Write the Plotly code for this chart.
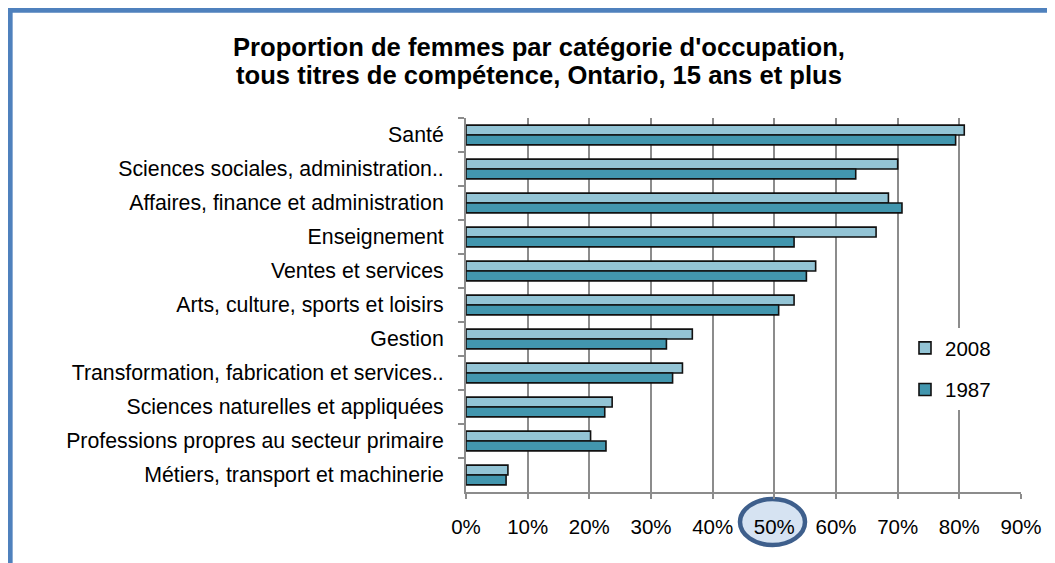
import plotly.graph_objects as go

categories = [
    "Santé",
    "Sciences sociales, administration..",
    "Affaires, finance et administration",
    "Enseignement",
    "Ventes et services",
    "Arts, culture, sports et loisirs",
    "Gestion",
    "Transformation, fabrication et services..",
    "Sciences naturelles et appliquées",
    "Professions propres au secteur primaire",
    "Métiers, transport et machinerie",
]
values_2008 = [80.8, 70.0, 68.5, 66.5, 56.7, 53.2, 36.7, 35.1, 23.7, 20.2, 6.8]
values_1987 = [79.4, 63.2, 70.7, 53.2, 55.2, 50.7, 32.5, 33.5, 22.5, 22.7, 6.5]
x_ticks = [0, 10, 20, 30, 40, 50, 60, 70, 80, 90]
title_lines = [
    "Proportion de femmes par catégorie d'occupation,",
    "tous titres de compétence, Ontario, 15 ans et plus",
]

# page body has an 8px default margin: work in screen pixels, shift by OFF
OFF = 8
W, H = 1055 - OFF, 563 - OFF
PL, PR, PT, PB = 466, 1021, 118, 492  # plot area in screen pixels
L, R, T, B = PL - OFF, W - (PR - OFF), PT - OFF, H - (PB - OFF)
PW, PH = W - L - R, H - T - B


def px_x(p):
    return (p - OFF - L) / PW


def px_y(p):
    return (H - B - (p - OFF)) / PH


FONT = "Liberation Sans, Arial, sans-serif"

fig = go.Figure()
fig.add_trace(go.Bar(
    y=categories, x=values_2008, name="2008", orientation="h",
    marker=dict(color="#93C4D5", line=dict(color="#111111", width=1.6)),
    legendgroup="a",
))
fig.add_trace(go.Bar(
    y=categories, x=values_1987, name="1987", orientation="h",
    marker=dict(color="#4296AE", line=dict(color="#111111", width=1.6)),
    legendgroup="b",
))

fig.update_layout(
    width=W, height=H,
    margin=dict(l=L, r=R, t=T, b=B, pad=0),
    paper_bgcolor="white", plot_bgcolor="white",
    barmode="group", bargap=0.42, bargroupgap=0.0,
    font=dict(family=FONT, size=21.3, color="black"),
    legend=dict(
        x=px_x(905), y=px_y(369), xanchor="left", yanchor="middle",
        bgcolor="white", traceorder="grouped", tracegroupgap=12,
        font=dict(family=FONT, size=20.5),
    ),
    showlegend=True,
)

for i, line in enumerate(title_lines):
    fig.add_annotation(
        text=f"<b>{line}</b>", xref="paper", yref="paper",
        x=px_x(539), y=px_y(47 + 28 * i), xanchor="center", yanchor="middle",
        showarrow=False, font=dict(family=FONT, size=25.6, color="black"),
    )

fig.update_xaxes(
    range=[0, 90], tickvals=x_ticks, ticktext=[f"{v}%" for v in x_ticks],
    showgrid=True, gridcolor="#8c8c8c", gridwidth=2,
    showline=True, linecolor="#8c8c8c", linewidth=2,
    ticks="outside", ticklen=5, tickcolor="#8c8c8c", tickwidth=2,
    zeroline=False, ticklabelstandoff=10,
    tickfont=dict(family=FONT, size=20.5),
)
fig.update_yaxes(
    autorange="reversed", categoryorder="array", categoryarray=categories,
    showgrid=False, showline=True, linecolor="#8c8c8c", linewidth=2,
    ticks="outside", ticklen=6, tickcolor="#8c8c8c", tickwidth=2,
    tickson="boundaries", ticklabelstandoff=16,
)

# decorative frame (top and left edges)
fig.add_shape(type="line", xref="paper", yref="paper",
              x0=px_x(10), x1=px_x(1100), y0=px_y(10), y1=px_y(10),
              line=dict(color="#4F81BD", width=5.3))
fig.add_shape(type="line", xref="paper", yref="paper",
              x0=px_x(10), x1=px_x(10), y0=px_y(7.4), y1=px_y(600),
              line=dict(color="#4F81BD", width=5.3))

# highlight ellipse around 50%
fig.add_shape(type="circle", xref="paper", yref="paper", layer="below",
              x0=px_x(740), x1=px_x(805), y0=px_y(545), y1=px_y(499),
              fillcolor="#D6E3F2", line=dict(color="#3E5F8C", width=4.5))

fig.write_html("out.html")
